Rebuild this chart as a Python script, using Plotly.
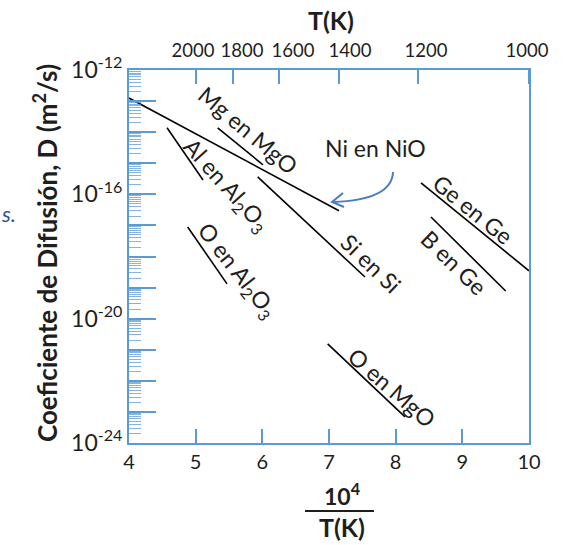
import numpy as np
import plotly.graph_objects as go

# ---- data (x = 10^4/T, y = log10 D endpoints) ----
series_names = ["Ni en NiO", "Mg en MgO", "Al en Al2O3", "Si en Si", "O en Al2O3",
                "O en MgO", "Ge en Ge", "B en Ge"]
x_start = [4.00, 5.33, 4.57, 5.93, 4.88, 6.98, 8.38, 8.53]
x_end = [7.15, 6.01, 5.11, 7.54, 5.47, 8.14, 10.00, 9.65]
logD_start = [-12.90, -13.86, -13.86, -15.44, -17.05, -20.81, -15.63, -16.73]
logD_end = [-16.53, -15.05, -15.54, -18.66, -18.88, -23.16, -18.46, -19.11]

# label texts and their positions (x, log10 D) and angles
label_texts = ["Ni en NiO", "Mg en MgO", "Al en Al<sub>2</sub>O<sub>3</sub>", "Si en Si",
               "O en Al<sub>2</sub>O<sub>3</sub>", "O en MgO", "Ge en Ge", "B en Ge"]
label_x = [7.69, 5.79, 5.46, 7.63, 5.62, 7.94, 9.16, 8.87]
label_logy = [-14.51, -13.93, -15.70, -18.21, -18.45, -22.20, -16.47, -18.18]
label_angle = [0, 40, 48, 44, 52, 41, 39, 44]

x_ticks = [4, 5, 6, 7, 8, 9, 10]
T_ticks = [2000, 1800, 1600, 1400, 1200, 1000]
# where the top labels sit (in 10^4/T units), as in the original layout
T_label_pos = [4.96, 5.695, 6.46, 7.315, 8.455, 9.97]
y_label_exps = [-12, -16, -20, -24]

BLUE = "rgb(91,155,213)"
FONT = "Lato"
TXT = "#1e1e1e"

fig = go.Figure()
for i in range(len(series_names)):
    fig.add_trace(go.Scatter(
        x=[x_start[i], x_end[i]],
        y=[10 ** logD_start[i], 10 ** logD_end[i]],
        mode="lines", line=dict(color="black", width=1.6),
        name=series_names[i], showlegend=False, hoverinfo="skip"))

# invisible traces so the extra axes are drawn
fig.add_trace(go.Scatter(x=[4, 10], y=[1e-24, 1e-12], xaxis="x2", yaxis="y",
                         mode="lines", line=dict(width=0), opacity=0,
                         showlegend=False, hoverinfo="skip"))
fig.add_trace(go.Scatter(x=[4, 10], y=[1e-24, 1e-12], xaxis="x", yaxis="y2",
                         mode="lines", line=dict(width=0), opacity=0,
                         showlegend=False, hoverinfo="skip"))

label_vals = [10.0 ** e for e in y_label_exps]
label_text = ["10<sup>%d</sup>" % e for e in y_label_exps]
decade_vals = [10.0 ** e for e in range(-24, -11)]
minor_vals = [m * 10.0 ** e for e in range(-24, -12) for m in range(2, 10)]

fig.update_layout(
    width=569, height=545,
    margin=dict(l=129, r=40, t=70, b=102),
    paper_bgcolor="white", plot_bgcolor="white",
    font=dict(family=FONT, color=TXT),
    xaxis=dict(range=[4, 10], tickvals=x_ticks, ticktext=[str(v) for v in x_ticks],
               ticks="inside", ticklen=14, tickwidth=2, tickcolor=BLUE,
               showline=True, linecolor=BLUE, linewidth=2, mirror=True,
               showgrid=False, zeroline=False, tickangle=0,
               tickfont=dict(size=20, family=FONT, color=TXT)),
    xaxis2=dict(range=[4, 10], overlaying="x", side="top", anchor="y",
                tickvals=T_label_pos, ticktext=[str(t) for t in T_ticks],
                ticks="", tickangle=0, ticklabelstandoff=4,
                showline=True, linecolor=BLUE, linewidth=2,
                showgrid=False, zeroline=False,
                tickfont=dict(size=18.5, family=FONT, color=TXT),
                minor=dict(tickmode="array", tickvals=[1e4 / t for t in T_ticks],
                           ticks="inside", ticklen=14, tickwidth=2, tickcolor=BLUE,
                           showgrid=False)),
    yaxis=dict(type="log", range=[-24, -12], tickvals=label_vals, ticktext=label_text,
               ticks="inside", ticklen=27, tickwidth=2, tickcolor=BLUE,
               showline=True, linecolor=BLUE, linewidth=2, mirror=True,
               showgrid=False, zeroline=False,
               tickfont=dict(size=23, family=FONT, color=TXT),
               minor=dict(tickmode="array", tickvals=minor_vals, ticks="inside",
                          ticklen=12, tickwidth=1, tickcolor="rgba(91,155,213,0.75)",
                          showgrid=False)),
    yaxis2=dict(type="log", range=[-24, -12], overlaying="y", side="left", anchor="x",
                tickvals=decade_vals, showticklabels=False,
                ticks="inside", ticklen=27, tickwidth=2, tickcolor=BLUE,
                showline=False, showgrid=False, zeroline=False),
)

for t, xx, yy, ang in zip(label_texts, label_x, label_logy, label_angle):
    fig.add_annotation(x=xx, y=yy, xref="x", yref="y", text=t, textangle=ang,
                       showarrow=False, font=dict(size=23, family=FONT, color=TXT))

# pixel -> paper helpers for decorations
def px(xp):
    return (xp - 129) / 400.0

def py(yp):
    return (443 - yp) / 373.0

def note(x, y, text, size, angle=0, color=TXT):
    fig.add_annotation(xref="paper", yref="paper", x=px(x), y=py(y), text=text,
                       textangle=angle, xanchor="center", yanchor="middle",
                       showarrow=False, font=dict(size=size, family=FONT, color=color))

# curved arrow to Ni en NiO line
fig.add_shape(type="path", xref="paper", yref="paper",
              path="M %f,%f Q %f,%f %f,%f" % (px(393), py(172), px(392), py(200), px(333), py(202)),
              line=dict(color="rgb(74,126,187)", width=2))
fig.add_shape(type="path", xref="paper", yref="paper",
              path="M %f,%f L %f,%f L %f,%f" % (px(343), py(193), px(332), py(202), px(344), py(207)),
              line=dict(color="rgb(74,126,187)", width=2))

# axis titles
note(331, 20, "<b>T(K)</b>", 25)
note(342, 494, "<b>10<sup>4</sup></b>", 23)
note(342, 527, "<b>T(K)</b>", 25)
fig.add_shape(type="line", xref="paper", yref="paper", x0=px(305), x1=px(374),
              y0=py(511), y1=py(511), line=dict(color=TXT, width=2))
note(45, 253, "<b>Coeficiente de Difusión, D (m<sup>2</sup>/s)</b>", 26, angle=-90)
note(8, 213, "<i>s.</i>", 22, color="rgb(47,85,151)")

fig.write_html("out.html")
